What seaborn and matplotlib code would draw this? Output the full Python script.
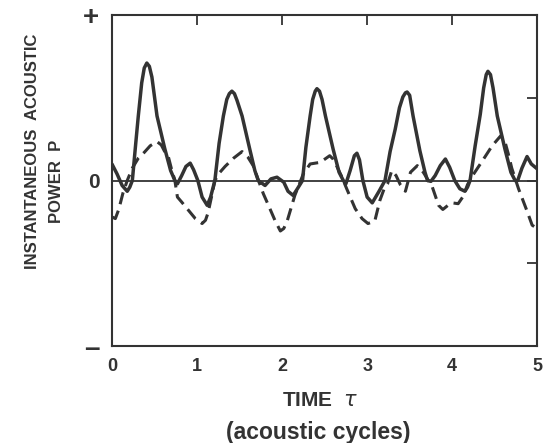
# Instantaneous acoustic power vs time
import pandas as pd
import matplotlib.pyplot as plt
import seaborn as sns

# Solid curve
solid_t = [0.0, 0.06, 0.12, 0.18, 0.21, 0.24, 0.28, 0.31, 0.35, 0.38, 0.41, 0.44, 0.47, 0.53,
           0.62, 0.69, 0.74, 0.77, 0.82, 0.87, 0.92, 0.96, 1.01, 1.06, 1.12, 1.16, 1.21, 1.26,
           1.31, 1.35, 1.38, 1.41, 1.44, 1.47, 1.53, 1.62, 1.68, 1.72, 1.80, 1.87, 1.94, 2.02,
           2.07, 2.13, 2.18, 2.24, 2.28, 2.33, 2.36, 2.39, 2.41, 2.44, 2.47, 2.51, 2.60, 2.67,
           2.72, 2.75, 2.80, 2.85, 2.88, 2.91, 2.95, 3.00, 3.06, 3.14, 3.21, 3.27, 3.33, 3.38,
           3.42, 3.45, 3.47, 3.50, 3.54, 3.62, 3.68, 3.71, 3.75, 3.80, 3.86, 3.92, 3.97, 4.03,
           4.09, 4.15, 4.18, 4.21, 4.27, 4.33, 4.37, 4.40, 4.42, 4.45, 4.48, 4.53, 4.62, 4.69,
           4.74, 4.77, 4.82, 4.88, 4.93, 5.0]
solid_p = [0.20, 0.08, -0.06, -0.13, -0.08, 0.0, 0.45, 0.78, 1.18, 1.36, 1.42, 1.38, 1.25, 0.78,
           0.39, 0.12, 0.0, -0.04, 0.06, 0.17, 0.21, 0.13, 0.0, -0.20, -0.30, -0.20, 0.0, 0.45,
           0.78, 0.98, 1.05, 1.08, 1.05, 0.97, 0.78, 0.38, 0.12, 0.0, -0.06, 0.02, 0.04, -0.02,
           -0.13, -0.18, -0.10, 0.0, 0.40, 0.78, 0.98, 1.08, 1.11, 1.08, 0.98, 0.78, 0.38, 0.10,
           0.0, -0.04, 0.12, 0.30, 0.33, 0.25, 0.0, -0.20, -0.27, -0.13, 0.0, 0.35, 0.62, 0.88,
           1.01, 1.06, 1.07, 1.03, 0.78, 0.36, 0.10, 0.0, -0.01, 0.06, 0.18, 0.26, 0.16, 0.0,
           -0.10, -0.13, -0.08, 0.0, 0.42, 0.80, 1.12, 1.28, 1.32, 1.28, 1.12, 0.78, 0.38, 0.10,
           0.0, 0.0, 0.15, 0.29, 0.20, 0.14]

# Dashed curve
dashed_t = [0.0, 0.04, 0.08, 0.13, 0.18, 0.24, 0.31, 0.38, 0.45, 0.53, 0.58, 0.62, 0.66, 0.70,
            0.74, 0.77, 0.82, 0.90, 0.98, 1.06, 1.10, 1.13, 1.17, 1.21, 1.27, 1.33, 1.43, 1.53,
            1.60, 1.66, 1.73, 1.78, 1.84, 1.92, 1.98, 2.02, 2.06, 2.15, 2.25, 2.33, 2.45, 2.56,
            2.60, 2.64, 2.70, 2.76, 2.86, 2.94, 3.01, 3.09, 3.15, 3.20, 3.24, 3.29, 3.34, 3.39,
            3.45, 3.51, 3.59, 3.66, 3.72, 3.76, 3.84, 3.89, 3.95, 4.00, 4.07, 4.13, 4.18, 4.24,
            4.35, 4.47, 4.57, 4.62, 4.66, 4.70, 4.78, 4.88, 4.94, 5.0]
dashed_p = [-0.44, -0.46, -0.35, -0.15, 0.0, 0.15, 0.27, 0.34, 0.42, 0.47, 0.43, 0.35, 0.30, 0.14,
            0.0, -0.20, -0.26, -0.36, -0.46, -0.52, -0.48, -0.39, -0.20, 0.0, 0.10, 0.17, 0.27, 0.35,
            0.28, 0.18, -0.02, -0.16, -0.30, -0.49, -0.61, -0.58, -0.49, -0.18, 0.08, 0.20, 0.22, 0.30,
            0.26, 0.18, 0.05, -0.10, -0.34, -0.46, -0.52, -0.49, -0.24, -0.10, -0.04, 0.12, 0.06, -0.05,
            -0.13, 0.10, 0.18, 0.10, 0.0, -0.06, -0.30, -0.35, -0.30, -0.27, -0.28, -0.19, -0.05, 0.06,
            0.23, 0.42, 0.54, 0.47, 0.32, 0.15, -0.10, -0.37, -0.54, -0.58]

x_ticks = [0, 1, 2, 3, 4, 5]
y_ticks = [-2, -1, 0, 1, 2]
y_tick_labels = ['\u2013', '', '0', '', '+']

df_solid = pd.DataFrame({'t': solid_t, 'p': solid_p})
df_dashed = pd.DataFrame({'t': dashed_t, 'p': dashed_p})

sns.set_style('white')
plt.rcParams['font.family'] = ['Liberation Sans', 'DejaVu Sans']

ink = '#333333'
fig = plt.figure(figsize=(5.46, 4.43), dpi=100)
ax = fig.add_axes([0.205, 0.219, 0.779, 0.747])

ax.axhline(0, color=ink, lw=1.3, zorder=1)
sns.lineplot(data=df_solid, x='t', y='p', ax=ax, color=ink, lw=2.5, sort=False)
sns.lineplot(data=df_dashed, x='t', y='p', ax=ax, color=ink, lw=2.2, sort=False,
             linestyle=(0, (4, 2.2)))

ax.set_xlim(0, 5)
ax.set_ylim(-2, 2)
ax.set_xticks(x_ticks)
ax.set_xticklabels([str(v) for v in x_ticks], fontsize=13, fontweight='bold', color=ink)
ax.set_yticks(y_ticks)
ax.set_yticklabels(y_tick_labels, fontsize=15, fontweight='bold', color=ink)
for lab in ax.get_yticklabels():
    if lab.get_text() in ('+', '\u2013'):
        lab.set_fontsize(20)

ax.tick_params(direction='in', length=7, width=1.3, color=ink, top=True, right=True,
               labeltop=False, labelright=False)
ax.tick_params(axis='x', pad=9)
ax.tick_params(axis='y', pad=9)

for s in ax.spines.values():
    s.set_color(ink)
    s.set_linewidth(1.5)

ax.set_xlabel('')
ax.set_ylabel('')
fig.text(0.586, 0.097, r'TIME  $\tau$', ha='center', va='center', fontsize=15,
         fontweight='bold', color=ink)
fig.text(0.583, 0.024, '(acoustic cycles)', ha='center', va='center', fontsize=16.5,
         fontweight='bold', color=ink)
fig.text(0.06, 0.659, 'INSTANTANEOUS  ACOUSTIC', rotation=90, ha='center', va='center',
         fontsize=12, fontweight='bold', color=ink)
fig.text(0.104, 0.591, 'POWER  P', rotation=90, ha='center', va='center',
         fontsize=12, fontweight='bold', color=ink)

plt.savefig('out.png', dpi=100)
